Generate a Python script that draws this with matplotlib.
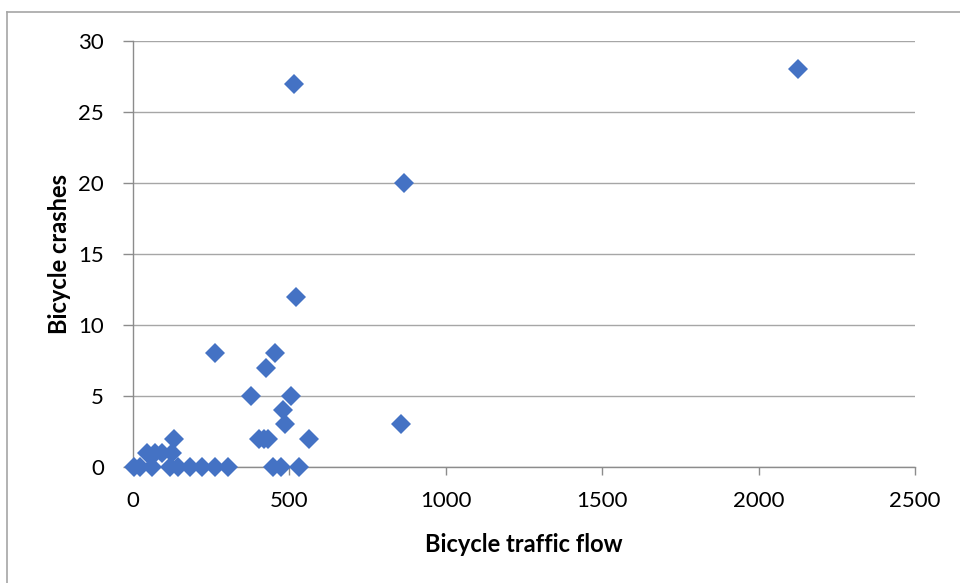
import matplotlib
matplotlib.use("Agg")
from matplotlib import pyplot as plt
from matplotlib.lines import Line2D

## bicycle flow vs crashes
flow_big = [2125, 514, 867, 520, 858]
crash_big = [28, 27, 20, 12, 3]

flow_mid = [262, 454, 424, 376, 506, 480, 487, 402, 418, 432, 562]
crash_mid = [8, 8, 7, 5, 5, 4, 3, 2, 2, 2, 2]

flow_low = [130, 45, 71, 92, 124]
crash_low = [2, 1, 1, 1, 1]

flow_zero = [2, 23, 60, 119, 145, 182, 220, 262, 304, 448, 474, 530]
crash_zero = [0] * len(flow_zero)

flow = flow_big + flow_mid + flow_low + flow_zero
crashes = crash_big + crash_mid + crash_low + crash_zero

x_ticks = [0, 500, 1000, 1500, 2000, 2500]
y_ticks = [0, 5, 10, 15, 20, 25, 30]

plt.rcParams["font.family"] = ["Lato", "DejaVu Sans"]

fig = plt.figure(figsize=(9.6, 5.83), dpi=100)
ax = fig.add_axes([133 / 960, 1 - 467 / 583, 782 / 960, 426 / 583])

ax.plot(flow, crashes, linestyle="none", marker="D", markersize=10.5,
        color="#4472C4", markeredgewidth=0, zorder=3, clip_on=False)

ax.set_xlim(0, 2500)
ax.set_ylim(0, 30)
ax.set_xticks(x_ticks)
ax.set_yticks(y_ticks)
ax.yaxis.grid(True, color="#A6A6A6", linewidth=1.0)
ax.set_axisbelow(True)

for side in ("top", "right"):
    ax.spines[side].set_visible(False)
for side in ("left", "bottom"):
    ax.spines[side].set_color("#8C8C8C")
    ax.spines[side].set_linewidth(1.0)

ax.tick_params(axis="both", direction="out", color="#8C8C8C", width=1.0,
               labelsize=16, labelcolor="black")
ax.tick_params(axis="y", length=7, pad=14)
ax.tick_params(axis="x", length=6, pad=11)

ax.set_xlabel("Bicycle traffic flow", fontsize=17, fontweight="bold", labelpad=16)
ax.set_ylabel("Bicycle crashes", fontsize=17, fontweight="bold", labelpad=5)

# chart area border (top and left visible in the crop)
fig.add_artist(Line2D([7 / 960, 7 / 960], [0, 1 - 12 / 583],
                      transform=fig.transFigure, color="#A6A6A6", linewidth=1.2))
fig.add_artist(Line2D([7 / 960, 1], [1 - 12 / 583, 1 - 12 / 583],
                      transform=fig.transFigure, color="#A6A6A6", linewidth=1.2))

fig.savefig("out.png", dpi=100)
